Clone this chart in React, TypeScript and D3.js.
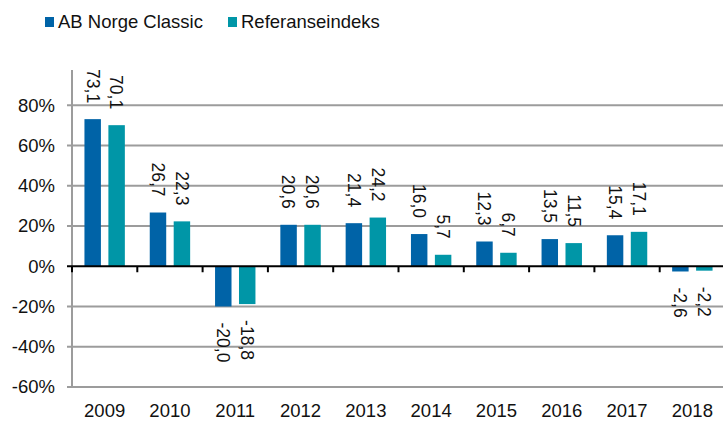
import React from "react";
import * as d3 from "d3";

const years = ["2009", "2010", "2011", "2012", "2013", "2014", "2015", "2016", "2017", "2018"];
const fundValues = [73.1, 26.7, -20.0, 20.6, 21.4, 16.0, 12.3, 13.5, 15.4, -2.6];
const indexValues = [70.1, 22.3, -18.8, 20.6, 24.2, 5.7, 6.7, 11.5, 17.1, -2.2];
const seriesNames = ["AB Norge Classic", "Referanseindeks"];
const yTicks = [80, 60, 40, 20, 0, -20, -40, -60];

const W = 723;
const H = 421;
const COLORS = ["#0063a7", "#0096a7"];
const FONT = "'Liberation Sans', Arial, sans-serif";

export default function App() {
  const left = 72;
  const right = 725;
  const y = d3.scaleLinear().domain([-60, 100]).range([387, 65]);
  const x = d3.scaleBand<string>().domain(years).range([left, right]).padding(0);
  const inner = d3
    .scaleBand<string>()
    .domain(["a", "b"])
    .range([0, x.bandwidth()])
    .paddingInner(0.3125)
    .paddingOuter(0.52);
  const keys = ["a", "b"];
  const seriesData = [fundValues, indexValues];
  const fmt = (v: number) => v.toFixed(1).replace(".", ",");
  const y0 = y(0);

  return (
    <svg
      width={W}
      height={H}
      style={{ position: "absolute", left: 0, top: 0, background: "#fff" }}
      fontFamily={FONT}
    >
      {/* legend */}
      {seriesNames.map((name, i) => {
        const lx = i === 0 ? 45 : 228;
        return (
          <g key={name}>
            <rect x={lx} y={17} width={9} height={10} fill={COLORS[i]} />
            <text x={lx + 13} y={27.5} fontSize={18.5} fill="#111">
              {name}
            </text>
          </g>
        );
      })}

      {/* gridlines */}
      {yTicks.map((t) =>
        t === 0 ? null : (
          <line
            key={t}
            x1={67}
            x2={right}
            y1={y(t)}
            y2={y(t)}
            stroke="#9c9c9c"
            strokeWidth={2}
          />
        )
      )}
      {/* y axis line */}
      <line x1={left} x2={left} y1={70} y2={y(-60)} stroke="#9c9c9c" strokeWidth={2} />

      {/* y tick labels */}
      {yTicks.map((t) => (
        <text
          key={"l" + t}
          x={55}
          y={y(t)}
          dy="0.35em"
          textAnchor="end"
          fontSize={18.5}
          fill="#111"
        >
          {t + "%"}
        </text>
      ))}

      {/* bars */}
      {seriesData.map((vals, si) =>
        vals.map((v, i) => {
          const bx = (x(years[i]) as number) + (inner(keys[si]) as number);
          const top = Math.min(y(v), y0);
          const h = Math.abs(y(v) - y0);
          return (
            <rect
              key={si + "-" + i}
              x={bx}
              y={top}
              width={inner.bandwidth()}
              height={h}
              fill={COLORS[si]}
            />
          );
        })
      )}

      {/* zero line */}
      <line x1={67} x2={right} y1={y0} y2={y0} stroke="#000" strokeWidth={2} />
      {years.map((yr, i) => (
        <line
          key={"t" + yr}
          x1={left + i * x.step()}
          x2={left + i * x.step()}
          y1={y0}
          y2={y0 + 6}
          stroke="#000"
          strokeWidth={2}
        />
      ))}

      {/* data labels */}
      {seriesData.map((vals, si) =>
        vals.map((v, i) => {
          const cx = (x(years[i]) as number) + (inner(keys[si]) as number) + inner.bandwidth() / 2;
          const pos = v >= 0;
          const ly = pos ? y(v) - 16 : y(v) + 16;
          return (
            <text
              key={"d" + si + "-" + i}
              transform={`translate(${cx},${ly}) rotate(90)`}
              textAnchor={pos ? "end" : "start"}
              dy="0.35em"
              fontSize={17.5}
              fill="#111"
            >
              {fmt(v)}
            </text>
          );
        })
      )}

      {/* x labels */}
      {years.map((yr) => (
        <text
          key={"x" + yr}
          x={(x(yr) as number) + x.bandwidth() / 2}
          y={417}
          textAnchor="middle"
          fontSize={18.5}
          fill="#111"
        >
          {yr}
        </text>
      ))}
    </svg>
  );
}
